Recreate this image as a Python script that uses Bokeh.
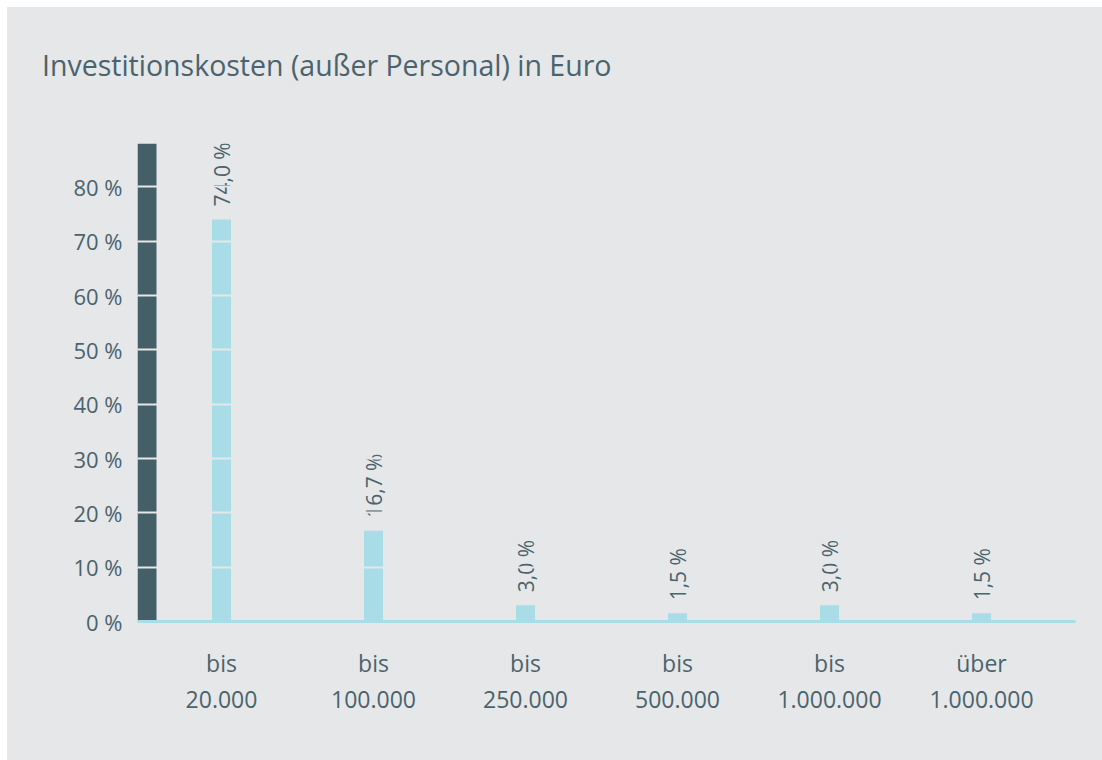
import math
from bokeh.plotting import figure
from bokeh.models import Range1d, FixedTicker, BoxAnnotation, Spacer, Div
from bokeh.layouts import column, row
from bokeh.embed import file_html
from bokeh.resources import INLINE
from bokeh.core.properties import value

# ---- data ----
categories = ["bis\n20.000", "bis\n100.000", "bis\n250.000", "bis\n500.000",
              "bis\n1.000.000", "über\n1.000.000"]
shares = [74.0, 16.7, 3.0, 1.5, 3.0, 1.5]
share_labels = ["74,0 %", "16,7 %", "3,0 %", "1,5 %", "3,0 %", "1,5 %"]
y_ticks = [0, 10, 20, 30, 40, 50, 60, 70, 80]
y_tick_labels = ["0 %", "10 %", "20 %", "30 %", "40 %", "50 %", "60 %", "70 %", "80 %"]
title_text = "Investitionskosten (außer Personal) in Euro"
axis_max = 88

# ---- style ----
BG = "#e6e7e8"
DARK = "#455f69"
LIGHT = "#a8dce6"
TEXT = "#4a636d"
FONT = "Open Sans"

W = 1095
TITLE_H = 80
H = 753 - TITLE_H
PX_PER_CAT = 152.0
FRAME_W = 938
x_start = -84.0 / PX_PER_CAT
x_end = x_start + FRAME_W / PX_PER_CAT
idx = list(range(len(categories)))

title_div = Div(
    text=('<div style="padding:44px 0 0 35px; margin:0; font-family:\'Open Sans\'; '
          'font-size:28.5px; line-height:1; color:%s; white-space:nowrap;">%s</div>'
          % (TEXT, title_text)),
    width=W, height=TITLE_H, margin=0)

p = figure(width=W, height=H, output_backend="svg", toolbar_location=None,
           x_range=Range1d(x_start, x_end), y_range=Range1d(0, axis_max),
           min_border_left=130, min_border_right=27, min_border_top=136 - TITLE_H,
           min_border_bottom=139)
p.background_fill_color = BG
p.border_fill_color = BG
p.outline_line_color = None

# dark y-axis band
p.add_layout(BoxAnnotation(left=x_start, right=x_start + 19.0 / PX_PER_CAT,
                           bottom=0, top=axis_max, fill_color=DARK, fill_alpha=1.0,
                           line_color=None, level="underlay"))

p.vbar(x=idx, top=shares, width=19.0 / PX_PER_CAT, fill_color=LIGHT, line_color=None)

p.text(x=idx, y=shares, text=share_labels, angle=math.pi / 2, text_align="left",
       text_baseline="middle", y_offset=-13, text_font=value(FONT),
       text_font_size="21px", text_color=TEXT)

# grid lines drawn over bars
p.xgrid.visible = False
p.ygrid.ticker = FixedTicker(ticks=y_ticks[1:])
p.ygrid.grid_line_color = BG
p.ygrid.grid_line_width = 2
p.ygrid.level = "overlay"

# y axis
p.yaxis.ticker = FixedTicker(ticks=y_ticks)
p.yaxis.major_label_overrides = {t: l for t, l in zip(y_ticks, y_tick_labels)}
p.yaxis.axis_line_color = None
p.yaxis.major_tick_line_color = None
p.yaxis.minor_tick_line_color = None
p.yaxis.major_label_standoff = 9
p.yaxis.major_label_text_font = FONT
p.yaxis.major_label_text_font_size = "22px"
p.yaxis.major_label_text_color = TEXT

# x axis
p.xaxis.ticker = FixedTicker(ticks=idx)
p.xaxis.major_label_overrides = {i: c for i, c in zip(idx, categories)}
p.xaxis.axis_line_color = LIGHT
p.xaxis.axis_line_width = 3
p.xaxis.major_tick_line_color = None
p.xaxis.minor_tick_line_color = None
p.xaxis.major_label_standoff = 19
p.xaxis.major_label_text_font = FONT
p.xaxis.major_label_text_font_size = "23px"
p.xaxis.major_label_text_color = TEXT
p.xaxis.major_label_text_line_height = 1.14

inner = column(title_div, p, styles={"background-color": BG})
layout = column(Spacer(height=7), row(Spacer(width=7), inner))
open("out.html", "w").write(file_html(layout, INLINE))
